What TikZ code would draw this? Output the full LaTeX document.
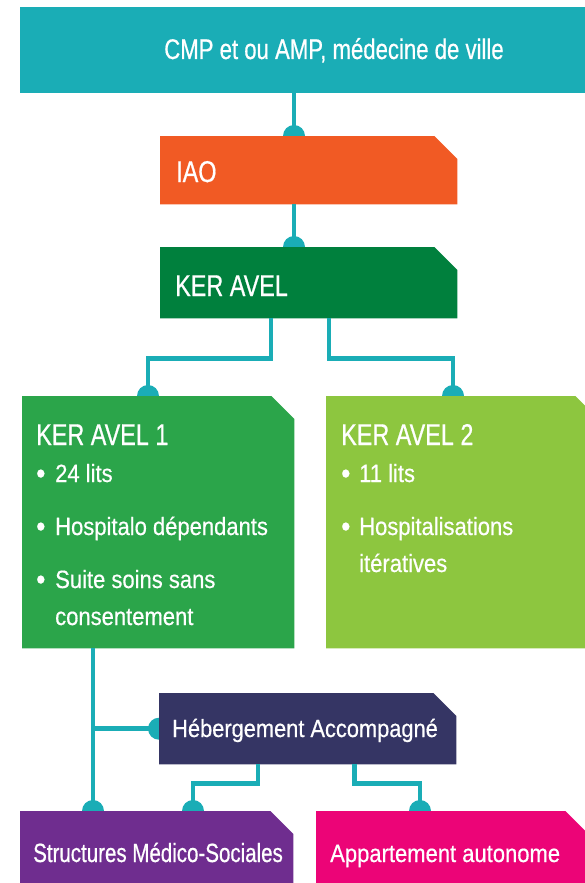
\documentclass[tikz,border=0pt]{standalone}
\usepackage{fontspec}
\setmainfont{Liberation Sans}
\newfontfamily\fHead{Liberation Sans}[FakeStretch=0.78,FakeBold=0.6]
\newfontfamily\fBody{Liberation Sans}[FakeStretch=0.88,FakeBold=0.5]
\usetikzlibrary{calc}
\pgfdeclarelayer{dots}
\pgfdeclarelayer{boxes}
\pgfsetlayers{dots,boxes,main}
\definecolor{cteal}{RGB}{26,173,182}
\definecolor{corange}{RGB}{241,90,36}
\definecolor{cdkgreen}{RGB}{0,128,61}
\definecolor{cgreen}{RGB}{43,165,74}
\definecolor{cltgreen}{RGB}{141,198,63}
\definecolor{cnavy}{RGB}{53,53,100}
\definecolor{cpurple}{RGB}{111,45,143}
\definecolor{cpink}{RGB}{236,4,119}
\newcommand\cutfill[3]{%
  \begin{pgfonlayer}{boxes}
  \fill[#2] (#1.south west) -- (#1.north west) -- ([xshift=-#3pt]#1.north east)
    -- ([yshift=-#3pt]#1.north east) -- (#1.south east) -- cycle;
  \end{pgfonlayer}}
\newcommand\conndot[1]{%
  \begin{pgfonlayer}{dots}
  \fill[cteal] (#1) circle (11pt);
  \end{pgfonlayer}}
\newcommand\bulmark{\raisebox{-1.5pt}{\scalebox{1.2}{•}}}
\tikzset{
  panel/.style={rectangle, inner sep=0pt, anchor=north west},
  lbl/.style={text=white, inner sep=0pt, anchor=base west},
  headtxt/.style={lbl, font=\fHead\fontsize{30}{30}\selectfont},
  bultxt/.style={lbl, font=\fBody\fontsize{25}{25}\selectfont},
  conn/.style={draw=cteal, line width=4.6pt},
}
\begin{document}
\begin{tikzpicture}[x=1pt,y=-1pt]
\useasboundingbox (0,0) rectangle (584,883);
\clip (0,0) rectangle (584,883);

% boxes
\node[panel, minimum width=570pt, minimum height=86pt] (cmp) at (20,7) {};
\node[panel, minimum width=297pt, minimum height=68pt] (iao) at (160,136) {};
\node[panel, minimum width=297pt, minimum height=71pt] (ker) at (160,247) {};
\node[panel, minimum width=272pt, minimum height=252pt] (k1) at (22,396) {};
\node[panel, minimum width=273pt, minimum height=252pt] (k2) at (326,396) {};
\node[panel, minimum width=297pt, minimum height=71pt] (heb) at (159,693) {};
\node[panel, minimum width=273pt, minimum height=80pt] (sms) at (20,811) {};
\node[panel, minimum width=272pt, minimum height=80pt] (app) at (316,811) {};

\begin{pgfonlayer}{boxes}
\fill[cteal] (cmp.south west) rectangle (cmp.north east);
\end{pgfonlayer}
\cutfill{iao}{corange}{23}
\cutfill{ker}{cdkgreen}{23}
\cutfill{k1}{cgreen}{23}
\cutfill{k2}{cltgreen}{24}
\cutfill{heb}{cnavy}{23}
\cutfill{sms}{cpurple}{23}
\cutfill{app}{cpink}{23}

% texts
\node[lbl, anchor=base, font=\fHead\fontsize{28.4}{28.4}\selectfont] (cmpt) at (334,59) {CMP et ou AMP, médecine de ville};
\node[headtxt] (iaot) at (176,182) {IAO};
\node[headtxt] (kert) at (175,296) {KER AVEL};
\node[headtxt] (k1t) at (36,445) {KER AVEL 1};
\node[bultxt] (k1a) at (36,482) {\makebox[19pt][l]{\bulmark}24 lits};
\node[bultxt] (k1b) at (36,535) {\makebox[19pt][l]{\bulmark}Hospitalo dépendants};
\node[bultxt] (k1c) at (36,588) {\makebox[19pt][l]{\bulmark}Suite soins sans};
\node[bultxt] (k1d) at (55,625) {consentement};
\node[headtxt] (k2t) at (341,445) {KER AVEL 2};
\node[bultxt] (k2a) at (341,482) {\makebox[18pt][l]{\bulmark}11 lits};
\node[bultxt] (k2b) at (341,535) {\makebox[18pt][l]{\bulmark}Hospitalisations};
\node[bultxt] (k2c) at (359,572) {itératives};
\node[lbl, font=\fBody\fontsize{24.8}{24.8}\selectfont] (hebt) at (172,737) {Hébergement Accompagné};
\node[lbl, font=\fHead\fontsize{26.3}{26.3}\selectfont] (smst) at (33,862) {Structures Médico-Sociales};
\node[lbl, font=\fBody\fontsize{25}{25}\selectfont] (appt) at (330,862) {Appartement autonome};

% connection points
\coordinate (iaoin) at ([xshift=134pt]iao.north west);
\coordinate (kerin) at ([xshift=134pt]ker.north west);
\coordinate (k1in) at ([xshift=126pt]k1.north west);
\coordinate (k2in) at ([xshift=127pt]k2.north west);
\coordinate (hebin) at (heb.west);
\coordinate (smsin1) at ([xshift=73pt]sms.north west);
\coordinate (smsin2) at ([xshift=173pt]sms.north west);
\coordinate (appin) at ([xshift=104pt]app.north west);
\coordinate (kerout1) at ([xshift=111pt]ker.south west);
\coordinate (kerout2) at ([xshift=169pt]ker.south west);
\coordinate (hebout1) at ([xshift=99pt]heb.south west);
\coordinate (hebout2) at ([xshift=195.5pt]heb.south west);

% connectors
\draw[conn] (iaoin |- cmp.south) -- (iaoin);
\draw[conn] (kerin |- iao.south) -- (kerin);
\draw[conn] (kerout1) -- ++(0,40) -| (k1in);
\draw[conn] (kerout2) -- ++(0,40) -| (k2in);
\draw[conn] (smsin1 |- k1.south) -- (smsin1);
\draw[conn] (hebin -| smsin1) -- (hebin);
\draw[conn] (hebout1) -- ++(0,19) -| (smsin2);
\draw[conn] (hebout2) -- ++(0,19) -| (appin);

\foreach \p in {iaoin,kerin,k1in,k2in,hebin,smsin1,smsin2,appin} {\conndot{\p}}
\end{tikzpicture}
\end{document}
